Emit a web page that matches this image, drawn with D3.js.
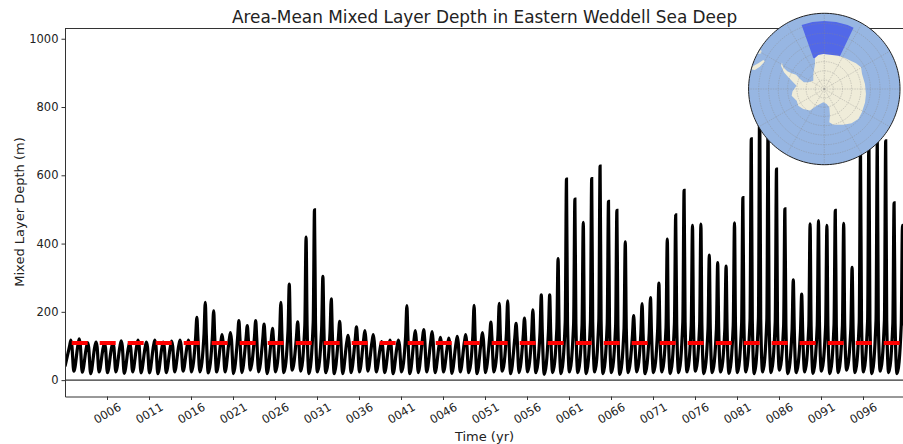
<!DOCTYPE html>
<html lang="en">
<head>
<meta charset="utf-8">
<title>Area-Mean Mixed Layer Depth</title>
<script src="https://d3js.org/d3.v7.min.js"></script>
<style>
  html, body { margin: 0; padding: 0; background: #fff; overflow: hidden; }
  text { font-family: "DejaVu Sans", sans-serif; fill: #222; }
  .axis path, .axis line { stroke: #333; }
  .axis text { font-size: 11.5px; }
</style>
</head>
<body>
<script>
// values, one entry per model year
var startDepth = 40;
var meanDepth = 109;
var peaks = [117,121,110,111,108,109,115,109,117,111,
             117,111,114,117,117,184,228,203,133,139,
             174,160,174,164,152,228,281,171,419,499,
             304,238,172,131,156,145,133,113,117,117,
             218,145,148,142,125,123,128,133,219,139,
             170,225,232,166,182,206,250,250,356,589,
             530,462,590,627,524,497,405,189,224,242,
             284,413,484,556,453,457,366,344,334,461,
             535,707,826,756,618,502,294,252,458,467,
             453,497,459,330,676,716,699,701,519,453];
var shoulders = [100,104,96,98,95,96,100,95,102,97,
                 102,97,99,102,102,125,135,130,112,118,
                 125,122,125,122,118,135,145,125,160,170,
                 150,140,125,112,120,118,112,98,102,102,
                 130,118,120,116,105,104,108,112,130,115,
                 125,135,138,125,130,132,140,140,150,170,
                 165,160,170,175,165,160,150,130,135,138,
                 145,155,165,170,160,160,150,150,148,160,
                 165,175,180,175,170,160,145,140,160,160,
                 158,162,160,150,170,175,175,175,165,160];
var troughs = [startDepth,26,23,19,24,22,24,20,24,21,
               21,19,22,24,26,24,24,21,24,24,
               19,22,29,24,19,24,22,29,26,19,
               24,22,19,19,22,24,26,24,22,19,
               24,19,22,24,22,24,20,24,22,19,
               22,24,26,19,22,24,22,17,22,19,
               24,22,19,24,19,22,17,22,24,19,
               22,24,19,22,24,26,19,22,24,20,
               22,24,19,24,22,29,19,22,24,20,
               26,19,22,29,22,24,19,26,22,19];
var phases = {trough: 0.05, rise: 0.55, peak: 0.7, fall: 0.82};

var yTicks = [0, 200, 400, 600, 800, 1000];
var xTicks = [5,10,15,20,25,30,35,40,45,50,55,60,65,70,75,80,85,90,95];

// coast, [lon, lat]
var antarctica = [[-58,-63],[-62,-64.8],[-64.5,-67.7],[-64.4,-70.2],[-63.2,-72.7],[-67.7,-75.6],[-71.8,-78.2],
  [-67.4,-80.5],[-52.9,-82.4],[-36.3,-79.8],[-20.5,-75.4],[-16.8,-72.3],[-10,-71.1],[-1.6,-70.9],[9.4,-71],
  [22.8,-70.3],[33.7,-69.7],[42.2,-69.1],[51,-67.8],[59.4,-66.8],[68.3,-67.9],[83,-67.7],[96.8,-67.2],
  [108.2,-66.7],[122,-66],[131.4,-65.4],[141.5,-66.2],[152,-68],[165.8,-69.9],[171.5,-71.6],[168,-75.1],
  [164.7,-79.6],[171,-81.7],[-175.7,-82.7],[-155.3,-79.9],[-146.5,-75.8],[-133.6,-74.1],[-122.7,-73.1],
  [-112.9,-73.6],[-101.5,-71.8],[-94.2,-72.6],[-83.1,-74.7],[-77.9,-72.6],[-72,-69.4],[-67.5,-66.3],[-61.7,-63.4],[-58,-63]];
var southAmerica = [[-72.7,-50.2],[-68.7,-52.4],[-64.5,-54],[-65,-55],[-70.9,-53.7],[-74.7,-51.8],[-75,-50.2],[-72.7,-50.2]];
var falklands = [[-62,-50.5],[-59,-50.2],[-58.5,-51],[-60.5,-51.5],[-62,-50.5]];
var regionBox = [[-19.5,-53.8],[-10,-53.8],[0,-53.8],[10,-53.8],[20,-53.8],[25.5,-53.8],[25.5,-72],[-19.5,-72],[-19.5,-53.8]];

var w = 903, h = 444;
var margin = {top: 28.5, left: 65, bottom: 47.5, right: 0};

var svg = d3.select("body").append("svg")
  .attr("width", w).attr("height", h)
  .style("display", "block");

var xScale = d3.scaleLinear().domain([0, 99.76]).range([margin.left, w]);
var yScale = d3.scaleLinear().domain([-48, 1030]).range([h - margin.bottom, margin.top]);

// build the seasonal line from the yearly readings
var series = [];
peaks.forEach(function(p, k) {
  series.push([k === 0 ? 0 : k + phases.trough, troughs[k]]);
  series.push([k + phases.rise, shoulders[k]]);
  series.push([k + phases.peak, p]);
  series.push([k + phases.fall, shoulders[k]]);
});

svg.append("defs").append("clipPath").attr("id", "plotArea")
  .append("rect")
  .attr("x", margin.left).attr("y", margin.top)
  .attr("width", w - margin.left).attr("height", h - margin.top - margin.bottom);

var plot = svg.append("g").attr("clip-path", "url(#plotArea)");

var lineGen = d3.line()
  .x(d => xScale(d[0]))
  .y(d => yScale(d[1]))
  .curve(d3.curveMonotoneX);

plot.append("path")
  .datum(series)
  .attr("d", lineGen)
  .attr("fill", "none")
  .attr("stroke", "#000")
  .attr("stroke-width", 3.2);

// zero line
plot.append("line")
  .attr("x1", margin.left).attr("x2", w)
  .attr("y1", yScale(0)).attr("y2", yScale(0))
  .attr("stroke", "#333").attr("stroke-width", 1.2);

// mean, dashed
plot.append("line")
  .attr("x1", margin.left).attr("x2", w)
  .attr("y1", yScale(meanDepth)).attr("y2", yScale(meanDepth))
  .attr("stroke", "#ff0000").attr("stroke-width", 4)
  .attr("stroke-dasharray", "16 12")
  .attr("stroke-dashoffset", 21.3);

var xAxis = d3.axisBottom(xScale)
  .tickValues(xTicks)
  .tickSize(3.5)
  .tickSizeOuter(0)
  .tickFormat(d => d3.format("04d")(d + 1));

var gx = svg.append("g")
  .attr("class", "axis")
  .attr("transform", `translate(0, ${h - margin.bottom})`)
  .call(xAxis);

gx.selectAll("text")
  .attr("text-anchor", "middle")
  .attr("transform", "translate(0, 17) rotate(-30)")
  .attr("y", 0).attr("dy", "0.32em");

var yAxis = d3.axisLeft(yScale)
  .tickValues(yTicks)
  .tickSize(3.5)
  .tickSizeOuter(0)
  .tickFormat(d3.format("d"));

svg.append("g")
  .attr("class", "axis")
  .attr("transform", `translate(${margin.left}, 0)`)
  .call(yAxis);

// top spine
svg.append("line")
  .attr("x1", margin.left).attr("x2", w)
  .attr("y1", margin.top).attr("y2", margin.top)
  .attr("stroke", "#333");

svg.append("text")
  .attr("x", 484.5).attr("y", 23)
  .attr("text-anchor", "middle")
  .style("font-size", "16.9px")
  .text("Area-Mean Mixed Layer Depth in Eastern Weddell Sea Deep");

svg.append("text")
  .attr("x", 484.5).attr("y", 441)
  .attr("text-anchor", "middle")
  .style("font-size", "13px")
  .text("Time (yr)");

svg.append("text")
  .attr("transform", "translate(24, 212) rotate(-90)")
  .attr("text-anchor", "middle")
  .style("font-size", "13px")
  .text("Mixed Layer Depth (m)");

// inset map, south polar stereographic out to 50S
var projection = d3.geoStereographic()
  .rotate([0, 90])
  .scale(208)
  .translate([824.3, 89])
  .precision(0.3);

var geoPath = d3.geoPath(projection);
var map = svg.append("g");
var disc = d3.geoCircle().center([0, -90]).radius(40).precision(2)();

// d3 wants the inside on the clockwise side, flip a ring that covers the far side
function polygon(ring) {
  var poly = {type: "Polygon", coordinates: [ring]};
  if (d3.geoArea(poly) > 2 * Math.PI) poly.coordinates = [ring.slice().reverse()];
  return poly;
}

map.append("path")
  .datum(disc)
  .attr("d", geoPath)
  .attr("fill", "#97b6e2");

map.append("path")
  .datum(polygon(regionBox))
  .attr("d", geoPath)
  .attr("fill", "#5268e8");

[antarctica, southAmerica, falklands].forEach(function(ring) {
  map.append("path")
    .datum(polygon(ring))
    .attr("d", geoPath)
    .attr("fill", "#efecd9");
});

var graticule = d3.geoGraticule()
  .extent([[-180, -90], [180, -50]])
  .step([30, 5]);

map.append("path")
  .datum(graticule())
  .attr("d", geoPath)
  .attr("fill", "none")
  .attr("stroke", "#888")
  .attr("stroke-opacity", 0.6)
  .attr("stroke-width", 0.6)
  .attr("stroke-dasharray", "1.5 1");

map.append("path")
  .datum(disc)
  .attr("d", geoPath)
  .attr("fill", "none")
  .attr("stroke", "#222")
  .attr("stroke-width", 1);
</script>
</body>
</html>
